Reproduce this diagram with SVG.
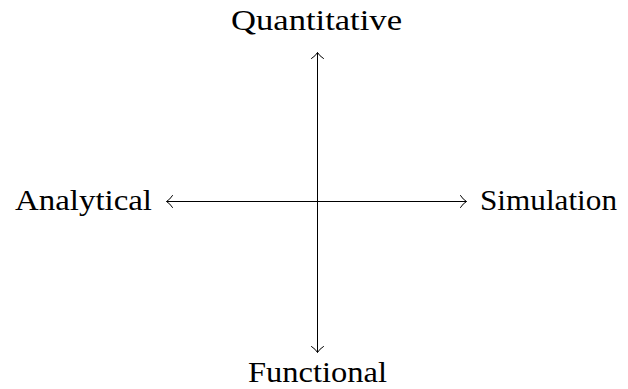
<svg xmlns="http://www.w3.org/2000/svg" width="628" height="389" viewBox="0 0 628 389">
<style>
.lbl{font-family:"Liberation Serif","Times New Roman",serif;font-size:30px;fill:#000}
.ax{stroke:#000;stroke-width:1;fill:none}
.hd{stroke:#000;stroke-width:1;fill:none;stroke-linecap:round;stroke-linejoin:round}
</style>
<rect width="628" height="389" fill="#fff"/>
<g id="connectors">
<line class="ax" x1="166.5" y1="201.5" x2="466.5" y2="201.5"/>
<line class="ax" x1="317.5" y1="52.5" x2="317.5" y2="352.5"/>
<path class="hd" d="M460.5,195.5 Q463,199.5 466.5,201.5 Q463,203.5 460.5,207.5"/>
<path class="hd" d="M172.5,195.5 Q170,199.5 166.5,201.5 Q170,203.5 172.5,207.5"/>
<path class="hd" d="M311.5,58.5 Q315.5,56 317.5,52.5 Q319.5,56 323.5,58.5"/>
<path class="hd" d="M311.5,346.5 Q315.5,349 317.5,352.5 Q319.5,349 323.5,346.5"/>
</g>
<g id="quantitative"><text class="lbl" x="231" y="30" textLength="171" lengthAdjust="spacingAndGlyphs">Quantitative</text></g>
<g id="analytical"><text class="lbl" x="15" y="210" textLength="137" lengthAdjust="spacingAndGlyphs">Analytical</text></g>
<g id="simulation"><text class="lbl" x="480" y="210" textLength="137" lengthAdjust="spacingAndGlyphs">Simulation</text></g>
<g id="functional"><text class="lbl" x="248" y="382" textLength="139" lengthAdjust="spacingAndGlyphs">Functional</text></g>
</svg>
